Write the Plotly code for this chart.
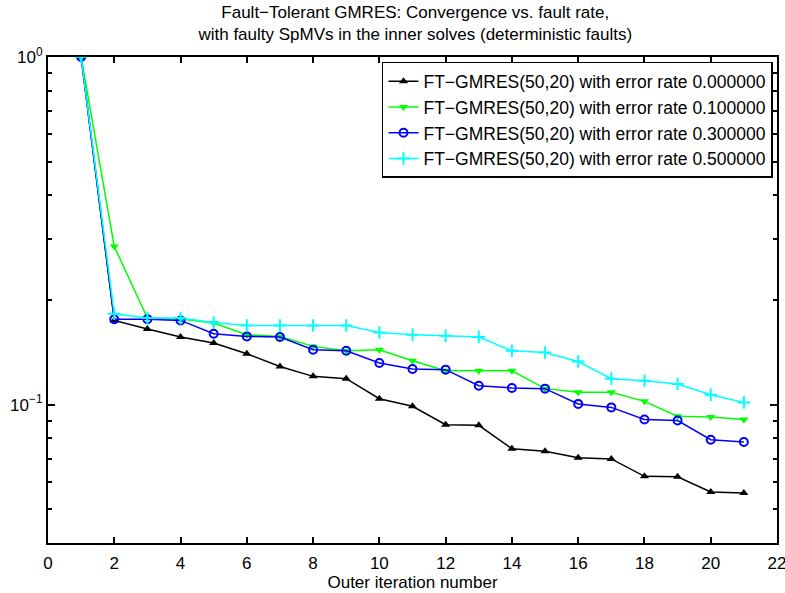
import plotly.graph_objects as go

# Outer iteration index
iterations = list(range(1, 22))

# Relative residual per outer iteration for each fault rate
res_rate_000 = [1.0, 0.1747, 0.1650, 0.1565, 0.1504, 0.1401, 0.1288, 0.1206, 0.1188,
                0.1040, 0.0989, 0.0876, 0.0872, 0.0747, 0.0734, 0.0703, 0.0698,
                0.0622, 0.0620, 0.0561, 0.0557]
res_rate_010 = [1.0, 0.2850, 0.1774, 0.1762, 0.1717, 0.1590, 0.1571, 0.1471, 0.1429,
                0.1439, 0.1338, 0.1252, 0.1252, 0.1252, 0.1112, 0.1085, 0.1085,
                0.1022, 0.0926, 0.0922, 0.0906]
res_rate_030 = [1.0, 0.1760, 0.1762, 0.1747, 0.1600, 0.1571, 0.1565, 0.1439, 0.1429,
                0.1318, 0.1267, 0.1261, 0.1134, 0.1117, 0.1112, 0.1005, 0.0982,
                0.0906, 0.0900, 0.0793, 0.0781]
res_rate_050 = [1.0, 0.1826, 0.1774, 0.1774, 0.1723, 0.1689, 0.1689, 0.1689, 0.1689,
                0.1613, 0.1590, 0.1579, 0.1565, 0.1429, 0.1413, 0.1331, 0.1188,
                0.1172, 0.1147, 0.1068, 0.1015]

series_names = [
    "FT\u2212GMRES(50,20) with error rate 0.000000",
    "FT\u2212GMRES(50,20) with error rate 0.100000",
    "FT\u2212GMRES(50,20) with error rate 0.300000",
    "FT\u2212GMRES(50,20) with error rate 0.500000",
]

x_ticks = list(range(0, 23, 2))
y_major_ticks = [0.1, 1.0]
y_major_labels = ["10<sup>\u22121</sup>", "10<sup>0</sup>"]
y_minor_ticks = [0.05, 0.06, 0.07, 0.08, 0.09, 0.2, 0.3, 0.4, 0.5, 0.6, 0.7, 0.8, 0.9]

FONT = "Liberation Sans, Arial, Helvetica, sans-serif"

styles = [
    dict(color="#000000", symbol="triangle-up", size=8, open=False),
    dict(color="#00ff00", symbol="triangle-down", size=8, open=False),
    dict(color="#0000ff", symbol="circle-open", size=8, open=True),
    dict(color="#00ffff", symbol="cross-thin-open", size=9, open=True),
]

fig = go.Figure()
for name, ys, st in zip(series_names, [res_rate_000, res_rate_010, res_rate_030, res_rate_050], styles):
    fig.add_trace(go.Scatter(
        x=iterations, y=ys, name=name, mode="lines+markers",
        line=dict(color=st["color"], width=1.5),
        marker=dict(symbol=st["symbol"], size=st["size"], color=st["color"],
                    line=dict(color=st["color"], width=2 if st["open"] else 0)),
    ))

axis_common = dict(
    showline=True, linecolor="black", linewidth=2, mirror="ticks",
    ticks="inside", tickcolor="black", tickwidth=1.5, showgrid=False, zeroline=False,
    automargin=False, ticklabeloverflow="allow",
    tickfont=dict(family=FONT, size=17, color="black"),
)

fig.update_xaxes(
    range=[0, 22], tickmode="array", tickvals=x_ticks, ticklen=6,
    ticklabelstandoff=4,
    title=dict(text="Outer iteration number", font=dict(family=FONT, size=17, color="black"),
               standoff=4),
    **axis_common,
)
fig.update_yaxes(
    type="log", range=[-1.39794, 0], tickmode="array",
    tickvals=y_major_ticks, ticktext=y_major_labels, ticklen=7,
    minor=dict(tickmode="array", tickvals=y_minor_ticks, ticks="inside", ticklen=4,
               tickcolor="black", tickwidth=1.5, showgrid=False),
    **axis_common,
)

fig.update_layout(
    width=785, height=593,
    margin=dict(l=48, r=8, t=57, b=50, autoexpand=False),
    paper_bgcolor="white", plot_bgcolor="white",
    font=dict(family=FONT, size=17, color="black"),
    title=dict(
        text="Fault\u2212Tolerant GMRES: Convergence vs. fault rate,<br>"
             "with faulty SpMVs in the inner solves (deterministic faults)",
        x=0.529, xanchor="center", y=0.969, yanchor="top",
        font=dict(family=FONT, size=17, color="black"),
    ),
    legend=dict(
        x=0.9945, xanchor="right", y=0.99, yanchor="top",
        bgcolor="white", bordercolor="black", borderwidth=1.5,
        font=dict(family=FONT, size=17.5, color="black"),
        tracegroupgap=0,
    ),
    showlegend=True,
)

fig.write_html("out.html")
